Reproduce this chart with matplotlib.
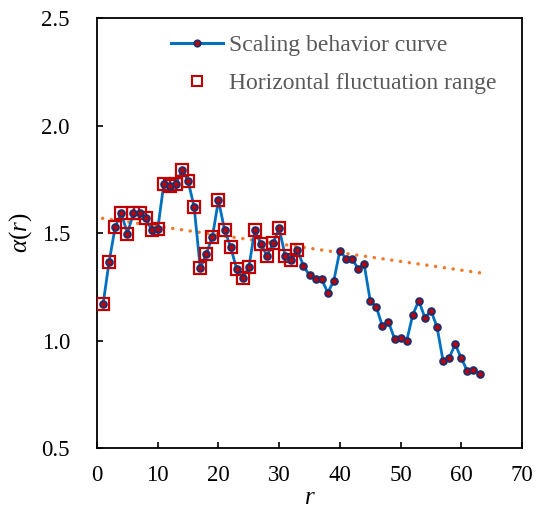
import matplotlib
matplotlib.use("Agg")
import matplotlib.pyplot as plt
from matplotlib.lines import Line2D
import numpy as np

plt.rcParams['font.family'] = ['Liberation Serif', 'DejaVu Serif']
plt.rcParams['mathtext.fontset'] = 'custom'
plt.rcParams['mathtext.it'] = 'Liberation Serif:italic'
plt.rcParams['mathtext.rm'] = 'Liberation Serif'

# scale index r and the scaling exponent alpha(r)
r = list(range(1, 64))
alpha = [1.170, 1.367, 1.529, 1.593, 1.497, 1.593, 1.593, 1.568, 1.514, 1.519,
         1.728, 1.719, 1.727, 1.794, 1.742, 1.621, 1.336, 1.404, 1.481, 1.653,
         1.515, 1.435, 1.333, 1.291, 1.340, 1.514, 1.447, 1.395, 1.452, 1.522,
         1.393, 1.374, 1.421, 1.347, 1.303, 1.288, 1.286, 1.222, 1.278, 1.418,
         1.381, 1.381, 1.334, 1.354, 1.185, 1.156, 1.067, 1.086, 1.009, 1.010,
         0.998, 1.119, 1.185, 1.106, 1.139, 1.063, 0.905, 0.920, 0.982, 0.917,
         0.858, 0.863, 0.846]

# points inside the horizontal fluctuation range
n_range = 33

# linear trend: alpha = intercept + slope * r
trend_intercept = 1.572
trend_slope = -0.00408

x_ticks = [0, 10, 20, 30, 40, 50, 60, 70]
y_ticks = [0.5, 1.0, 1.5, 2.0, 2.5]

fig = plt.figure(figsize=(5.39, 5.19), dpi=100)
ax = fig.add_axes([0.18, 0.1368, 0.7885, 0.8285])

# trend drawn from the last scale back towards the first so a dot sits at the end
r_trend = np.array([r[-1], r[0] - 0.15])
trend = trend_intercept + trend_slope * r_trend
ax.plot(r_trend, trend, color='#ED7D31', lw=2.5,
        linestyle=(0, (0.05, 2.5)), dash_capstyle='round', zorder=2)

ax.plot(r, alpha, color='#0070C0', lw=2.0, zorder=3)
ax.plot(r[:n_range], alpha[:n_range], linestyle='none', marker='s',
        markersize=9, markerfacecolor='none', markeredgecolor='#C00000',
        markeredgewidth=1.6, zorder=4)
ax.plot(r, alpha, linestyle='none', marker='o', markersize=4.8,
        markerfacecolor='#C00000', markeredgecolor='#1F2F6E',
        markeredgewidth=1.4, zorder=5)

ax.set_xlim(0, 70)
ax.set_ylim(0.5, 2.5)
ax.set_xticks(x_ticks)
ax.set_yticks(y_ticks)
ax.set_yticklabels([f"{v:.1f}" for v in y_ticks])
ax.tick_params(direction='in', length=4, width=1.2, labelsize=16.5,
               colors='black')
ax.tick_params(axis='y', pad=19.5)
ax.tick_params(axis='x', pad=12)
for s in ax.spines.values():
    s.set_linewidth(1.3)

ax.set_xlabel(r'$r$', fontsize=18, labelpad=1)
ax.set_ylabel(r'$\alpha(r)$', fontsize=18, labelpad=5)

h1 = Line2D([], [], color='#0070C0', lw=2.2, marker='o', markersize=4.6,
            markerfacecolor='#C00000', markeredgecolor='#1F2F6E',
            markeredgewidth=1.3)
h2 = Line2D([], [], linestyle='none', marker='s', markersize=7,
            markerfacecolor='none', markeredgecolor='#C00000',
            markeredgewidth=1.5)
leg = ax.legend([h1, h2], ['Scaling behavior curve', 'Horizontal fluctuation range'],
                loc='upper left', bbox_to_anchor=(0.174, 0.962), frameon=False,
                fontsize=17, handlelength=2.2, labelspacing=0.7,
                handletextpad=0.27, borderpad=0, borderaxespad=0)
for t in leg.get_texts():
    t.set_color('#595959')

fig.savefig('out.png', dpi=100)
